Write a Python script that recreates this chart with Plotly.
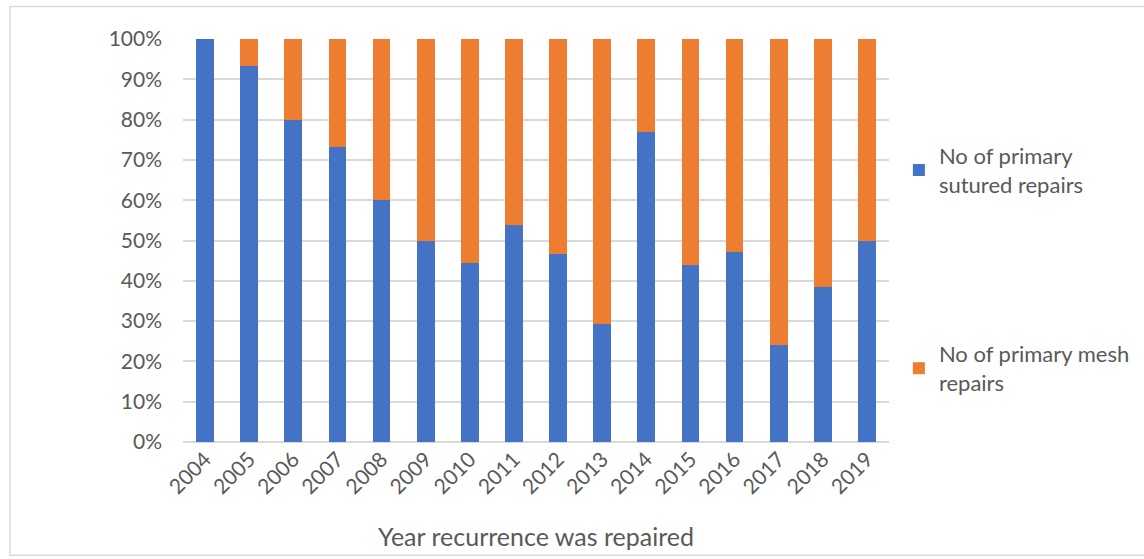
import plotly.graph_objects as go

years = ["2004", "2005", "2006", "2007", "2008", "2009", "2010", "2011",
         "2012", "2013", "2014", "2015", "2016", "2017", "2018", "2019"]
sutured_pct = [100, 93.3, 80, 73.3, 60, 50, 44.4, 53.8,
               46.7, 29.4, 76.9, 44, 47.1, 24.1, 38.5, 50]
mesh_pct = [round(100 - v, 1) for v in sutured_pct]

series_names = ["No of primary<br>sutured repairs", "No of primary mesh<br>repairs"]
series_colors = ["#4472C4", "#ED7D31"]
y_ticks = [0, 10, 20, 30, 40, 50, 60, 70, 80, 90, 100]
y_tick_labels = [f"{t}%" for t in y_ticks]
x_title = "Year recurrence was repaired"

fig = go.Figure()
for i, (name, vals, col) in enumerate(zip(series_names, [sutured_pct, mesh_pct], series_colors)):
    fig.add_trace(go.Bar(
        x=years, y=vals, name=name, legendgroup=f"g{i}",
        marker=dict(color=col, line=dict(width=0)),
    ))

txt = "#595959"
fig.update_layout(
    width=1144, height=559,
    barmode="stack", bargap=0.6,
    paper_bgcolor="white", plot_bgcolor="white",
    margin=dict(l=183, r=255, t=39, b=116.5, autoexpand=False),
    font=dict(family="Lato, 'Open Sans', sans-serif", size=20, color=txt),
    xaxis=dict(
        tickangle=-45, tickfont=dict(size=21, color=txt),
        title=dict(text=x_title, font=dict(size=25, color=txt), standoff=31),
        showgrid=False, ticks="", showline=False,
    ),
    yaxis=dict(
        range=[0, 100], tickvals=y_ticks, ticktext=y_tick_labels,
        tickfont=dict(size=21, color=txt), ticklabelstandoff=20,
        showgrid=True, gridcolor="#D9D9D9", gridwidth=1.5,
        zeroline=True, zerolinecolor="#D9D9D9", zerolinewidth=1.5,
        ticks="", ticklen=0, showline=False,
    ),
    legend=dict(
        x=1.014, y=0.762, xanchor="left", yanchor="top",
        traceorder="grouped", tracegroupgap=138,
        font=dict(size=22, color=txt),
        itemwidth=30, bgcolor="rgba(0,0,0,0)",
    ),
    shapes=[dict(
        type="rect", xref="paper", yref="paper",
        x0=-0.245, x1=1.4, y0=-0.2813, y1=1.0805,
        line=dict(color="#D9D9D9", width=1.5), fillcolor="rgba(0,0,0,0)",
        layer="below",
    )],
)

fig.write_html("out.html", config={"displayModeBar": False},
               post_script="document.body.style.margin='0px';")
